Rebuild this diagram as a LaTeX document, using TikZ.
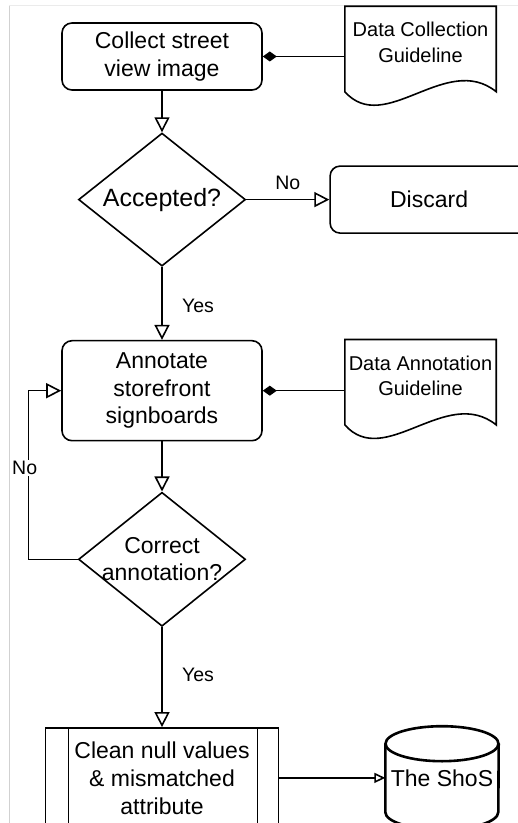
\documentclass[tikz,border=0pt]{standalone}
\usepackage{fontspec}
\setmainfont{Liberation Sans}
\usepackage{tikz}
\usetikzlibrary{shapes.geometric, arrows.meta, positioning, calc}
\tikzstyle{process} = [draw, rectangle, rounded corners=10bp, line width=1.6bp, minimum width=200bp, minimum height=67bp, align=center, font=\fontsize{23bp}{27.5bp}\selectfont]
\tikzstyle{decision} = [draw, diamond, line width=1.6bp, minimum width=167bp, minimum height=133bp, inner sep=-8bp, shape aspect=1.25, align=center, font=\fontsize{23bp}{27.5bp}\selectfont]
\tikzstyle{subproc} = [draw, rectangle, line width=1.6bp, minimum width=233bp, minimum height=100bp, align=center, font=\fontsize{23bp}{28bp}\selectfont]
\tikzstyle{guide} = [rectangle, minimum width=151bp, minimum height=72bp, inner sep=0pt, align=center, font=\fontsize{20bp}{25.5bp}\selectfont]
\tikzstyle{store} = [rectangle, minimum width=113bp, minimum height=103bp, inner sep=0pt, font=\fontsize{23bp}{27.5bp}\selectfont]
\tikzstyle{lbl} = [font=\fontsize{19.5bp}{23bp}\selectfont]
\tikzstyle{arrow} = [draw, line width=1.6bp, -{Triangle[open, length=15bp, width=15bp]}]
\tikzstyle{assoc} = [draw, line width=1.6bp, {Diamond[length=14bp, width=10bp]}-]
\tikzstyle{outline} = [draw, line width=1.6bp]

\begin{document}
\begin{tikzpicture}[x=1bp, y=1bp, node distance=40bp]
    \useasboundingbox (0,0) rectangle (518,823);
    % Frame
    \draw [black!18, line width=1bp] (9,0) -- (9,817);
    \draw [black!8, line width=1bp] (9,817) -- (518,817);

    % Draw blocks
    \node (collect) [process] at (162,766.5) {Collect street\\view image};
    \node (accept) [decision, font=\fontsize{25bp}{30bp}\selectfont, below=41.5bp of collect] {Accepted?};
    \node (discard) [process, minimum width=198bp, right=83bp of accept] {Discard};
    \node (annotate) [process, minimum height=100bp, below=73bp of accept] {Annotate\\storefront\\signboards};
    \node (correct) [decision, minimum height=134bp, below=50bp of annotate] {Correct\\annotation?};
    \node (clean) [subproc, below=100bp of correct] {Clean null values\\\& mismatched\\attribute};
    \node (shos) [store, right=106bp of clean] {The ShoS};

    % Guidelines
    \node (colldoc) [guide, right=82bp of collect, yshift=14bp] {Data Collection\\Guideline};
    \node (anndoc) [guide, right=82bp of annotate, yshift=15bp] {Data Annotation\\Guideline};
    \draw [outline] (colldoc.north west) -- ([yshift=-13bp]colldoc.south west) .. controls +(40,-45) and +(-50,40) .. ([yshift=-13bp]colldoc.south east) -- (colldoc.north east) -- cycle;
    \draw [outline] (anndoc.north west) -- ([yshift=-13bp]anndoc.south west) .. controls +(40,-45) and +(-50,40) .. ([yshift=-13bp]anndoc.south east) -- (anndoc.north east) -- cycle;

    % Side bars and cylinder
    \draw [outline] ([xshift=24bp]clean.north west) -- ([xshift=24bp]clean.south west);
    \draw [outline] ([xshift=-22bp]clean.north east) -- ([xshift=-22bp]clean.south east);
    \draw [line width=2.6bp] ([yshift=-17.5bp]shos.north) ellipse [x radius=56.5, y radius=17.5];
    \draw [line width=2.6bp] ([yshift=-17.5bp]shos.north west) -- ([yshift=17.5bp]shos.south west) arc [start angle=180, end angle=360, x radius=56.5, y radius=17.5] -- ([yshift=-17.5bp]shos.north east);

    % Links
    \draw [assoc] (collect.east) -- (collect.east -| colldoc.west);
    \draw [arrow] (collect) -- (accept);
    \draw [arrow] (accept) -- node [lbl, above=6bp] {No} (discard);
    \draw [arrow] (accept) -- node [lbl, right=16bp, pos=0.53] {Yes} (annotate);
    \draw [assoc] (annotate.east) -- (annotate.east -| anndoc.west);
    \draw [arrow] (annotate) -- (correct);
    \draw [arrow] (correct.west) -- ++(-49,0) |- node [lbl, pos=0.27, xshift=-4bp, fill=white, inner sep=1bp] {No} (annotate.west);
    \draw [arrow] (correct) -- node [lbl, right=16bp, pos=0.48] {Yes} (clean);
    \draw [draw, line width=1.6bp, -{Triangle[open, length=11bp, width=10bp]}] (clean) -- (shos);
\end{tikzpicture}
\end{document}
